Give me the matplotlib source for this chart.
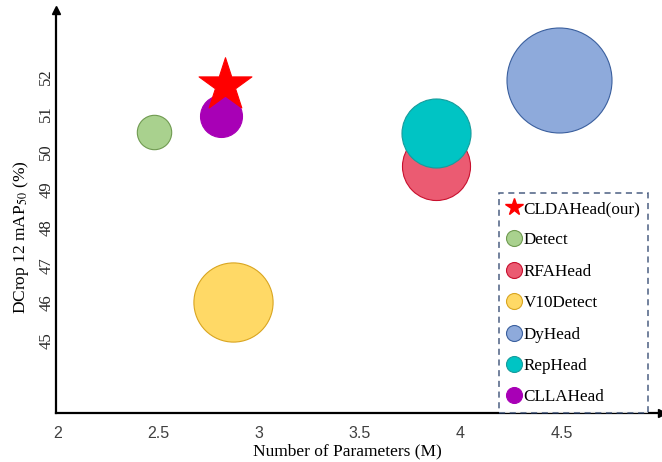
import matplotlib
matplotlib.use('Agg')
import matplotlib.pyplot as plt
from matplotlib.lines import Line2D

# detection heads: parameter count (M) vs. mAP50 on DCrop 12
methods = ['CLDAHead(our)', 'Detect', 'RFAHead', 'V10Detect', 'DyHead', 'RepHead', 'CLLAHead']
params = [2.83, 2.48, 3.88, 2.87, 4.49, 3.88, 2.81]
map50 = [51.76, 50.52, 49.62, 46.03, 51.89, 50.50, 50.95]

# bubble area in points^2
bubble_area = [1600, 613, 2400, 3250, 5715, 2470, 914]
face_colors = ['#ff0000', '#a9d18e', '#eb5b72', '#ffd966', '#8eaadb', '#00c4c4', '#a800b6']
edge_colors = ['#ff0000', '#6f9a50', '#c8102e', '#d9a520', '#3a5f9e', '#169c9c', '#a800b6']

x_ticks = [2, 2.5, 3, 3.5, 4, 4.5]
y_ticks = [45, 46, 47, 48, 49, 50, 51, 52]

serif = 'Liberation Serif'
plt.rcParams['mathtext.fontset'] = 'stix'

fig = plt.figure(figsize=(6.62, 4.62), dpi=100)
ax = fig.add_axes([0.0841, 0.106, 0.916, 0.872])

# draw the circles first, then our method as a star on top
order = [1, 2, 3, 4, 5, 6, 0]
for i in order:
    marker = '*' if i == 0 else 'o'
    ax.scatter(params[i], map50[i], s=bubble_area[i], marker=marker,
               facecolor=face_colors[i], edgecolor=edge_colors[i],
               linewidth=0.8, zorder=3 + order.index(i), clip_on=False)

ax.set_xlim(1.99, 5.0)
ax.set_ylim(43.09, 53.75)

ax.set_xticks(x_ticks)
ax.set_xticklabels([f'{v:g}' for v in x_ticks], family='Liberation Sans',
                   fontsize=11.5, color='#404040')
ax.set_yticks(y_ticks)
ax.set_yticklabels([str(v) for v in y_ticks], family=serif, fontsize=12,
                   rotation=90, va='center', color='#262626')
ax.tick_params(axis='both', length=0)
ax.tick_params(axis='x', pad=9)
ax.tick_params(axis='y', pad=1)

# axes drawn as arrows
for side in ['top', 'right']:
    ax.spines[side].set_visible(False)
for side in ['left', 'bottom']:
    ax.spines[side].set_linewidth(1.6)
    ax.spines[side].set_color('black')
ax.plot(1, 0, '>', color='black', markersize=6, transform=ax.transAxes, clip_on=False)
ax.plot(0, 1, '^', color='black', markersize=6, transform=ax.transAxes, clip_on=False)

ax.set_xlabel('Number of Parameters (M)', family=serif, fontsize=12.5)
ax.set_ylabel(r'DCrop 12 mAP$_{50}$ (%)', family=serif, fontsize=12.5)
ax.xaxis.set_label_coords(0.481, -0.075)
ax.yaxis.set_label_coords(-0.04, 0.4375)

# legend with star and circle proxies
handles = []
for i, name in enumerate(methods):
    if i == 0:
        h = Line2D([], [], linestyle='none', marker='*', markersize=13,
                   markerfacecolor=face_colors[i], markeredgecolor=edge_colors[i])
    else:
        h = Line2D([], [], linestyle='none', marker='o', markersize=11.5,
                   markerfacecolor=face_colors[i], markeredgecolor=edge_colors[i],
                   markeredgewidth=0.8)
    handles.append(h)

leg = ax.legend(handles, methods, loc='lower right', bbox_to_anchor=(0.977, 0.0),
                prop={'family': serif, 'size': 12.3}, frameon=True, fancybox=False,
                borderaxespad=0, handlelength=0.85, handletextpad=0.15,
                labelspacing=0.9, borderpad=0.45)
frame = leg.get_frame()
frame.set_edgecolor('#1f3864')
frame.set_linestyle((0, (4, 3)))
frame.set_linewidth(1.1)
frame.set_facecolor('white')
leg.set_zorder(20)

fig.savefig('out.png', dpi=100)
